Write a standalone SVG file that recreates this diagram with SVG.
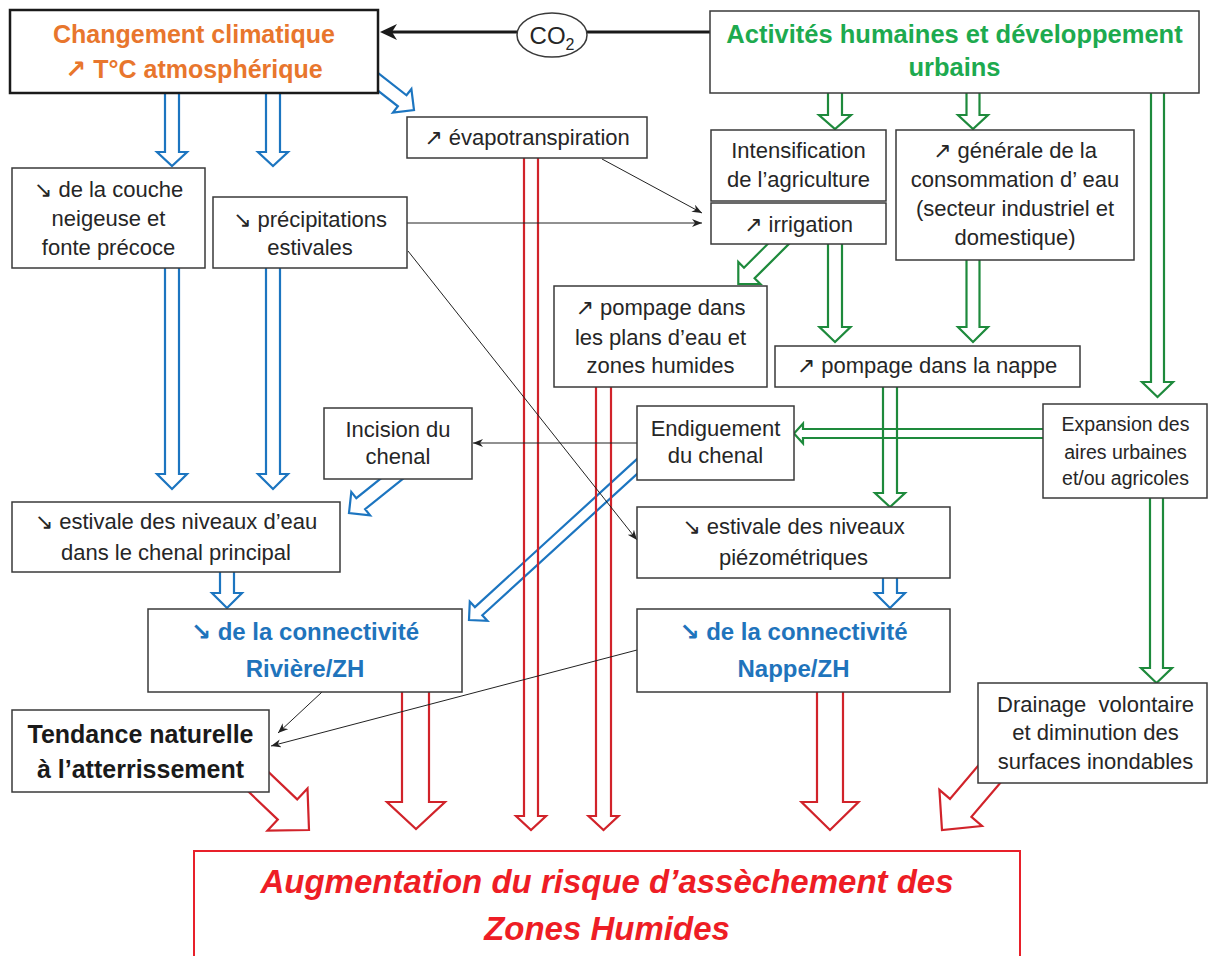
<svg xmlns="http://www.w3.org/2000/svg" width="1208" height="956" viewBox="0 0 1208 956">
<defs>
<style>
.box{fill:#fff;stroke:#3a3a3a;stroke-width:1.5}
.t{font-family:"Liberation Sans","DejaVu Sans",sans-serif;font-size:22px;fill:#262626;text-anchor:middle}
.b{font-weight:bold}
.ab{fill:none;stroke:#1C75C0;stroke-width:2.2;stroke-linejoin:miter}
.ag{fill:none;stroke:#1E8A3C;stroke-width:2.2;stroke-linejoin:miter}
.ar{fill:none;stroke:#D1232A;stroke-width:2.2;stroke-linejoin:miter}
.thin{fill:none;stroke:#222;stroke-width:1;marker-end:url(#ah)}
</style>
<marker id="ah" markerUnits="userSpaceOnUse" markerWidth="12" markerHeight="10" refX="10" refY="4" orient="auto">
<path d="M0,0 L10,4 L0,8 L3,4 Z" fill="#222"/>
</marker>
</defs>
<rect width="1208" height="956" fill="#fff"/>
<g id="connectors">
<path d="M710,32 H392" stroke="#1a1a1a" stroke-width="3" fill="none"/>
<path d="M380,32 L397,24 L392,32 L397,40 Z" fill="#1a1a1a"/>
<!-- blue -->
<path class="ab" d="M165,93 V152 H157 L172,166 L187,152 H179 V93"/>
<path class="ab" d="M266,93 V152 H258 L273,166 L288,152 H280 V93"/>
<path class="ab" d="M165,268 V474 H157 L172,489 L187,474 H179 V268"/>
<path class="ab" d="M266,268 V474 H258 L273,489 L288,474 H280 V268"/>
<path class="ab" d="M220,572 V593 H212 L227,608 L242,593 H234 V572"/>
<path class="ab" d="M883,578 V593 H875 L890,608 L905,593 H897 V578"/>
<path class="ab" d="M375,70.7 L406.5,95.3 L411.4,89 L414,110 L393,112.6 L397.9,106.3 L366.4,81.7"/>
<path class="ab" d="M411.9,471.6 L365.1,509.1 L370.1,515.3 L349,513 L351.3,491.9 L356.3,498.1 L403.1,460.6"/>
<path class="ab" d="M655.5,457.1 L482.3,615.3 L487.4,620.8 L469,620 L469.8,601.6 L474.9,607.1 L648.1,448.9"/>
<!-- green -->
<path class="ag" d="M828,93 V115 H819 L835,129 L851,115 H842 V93"/>
<path class="ag" d="M966.5,93 V115 H958 L973,129 L988,115 H979.5 V93"/>
<path class="ag" d="M1151,93 V382 H1142 L1157.5,397 L1173,382 H1164 V93"/>
<path class="ag" d="M828,244 V327 H819.5 L835,342 L850.5,327 H842 V244"/>
<path class="ag" d="M966.5,260 V327 H958 L973,342 L988,327 H979.5 V260"/>
<path class="ag" d="M883,387 V493 H875 L890,507 L905,493 H897 V387"/>
<path class="ag" d="M1150,498 V668 H1141 L1156.5,683 L1172,668 H1163 V498"/>
<path class="ag" d="M1043,429 H803 V423.5 L794,433.5 L803,443.5 V438 H1043"/>
<path class="ag" d="M797,235.9 L754.6,278.3 L760.3,284 L738.3,284 L738.3,262 L744,267.7 L786.4,225.3"/>
<!-- red -->
<path class="ar" d="M524,158 V816 H516 L531,830 L546,816 H538 V158"/>
<path class="ar" d="M596,387 V816 H588.5 L603.5,830 L618.5,816 H611 V387"/>
<path class="ar" d="M402,692 V802 H387 L416,829 L445,802 H429 V692"/>
<path class="ar" d="M817,692 V802 H801.5 L830,830 L858.5,802 H843 V692"/>
<path class="ar" d="M253.8,758 L297.2,799.4 L307.5,788.5 L309,830 L267.5,830.5 L277.8,819.6 L234.4,778.2"/>
<path class="ar" d="M1010.2,771.2 L971.4,816.9 L982,826 L942,830 L939.4,789.8 L950,798.9 L988.8,753.2"/>
<!-- thin -->
<path class="thin" d="M602,159 L702,213"/>
<path class="thin" d="M407,223 L702,223"/>
<path class="thin" d="M408,251 L637,540"/>
<path class="thin" d="M637,443 L473,443"/>
<path class="thin" d="M322,692 L278,733"/>
<path class="thin" d="M637,650 L271,746"/>
</g>
<g id="n-changement">
<rect x="10" y="10" width="368" height="83" fill="#fff" stroke="#1a1a1a" stroke-width="2.5"/>
<text class="t b" x="194" y="43" style="font-size:25px;fill:#E8762D">Changement climatique</text>
<text class="t b" x="194" y="78" style="font-size:25px;fill:#E8762D">↗ T°C atmosphérique</text>
</g>
<g id="n-co2">
<ellipse cx="552" cy="35" rx="35" ry="22" fill="#fff" stroke="#3a3a3a" stroke-width="1.5"/>
<text class="t" x="552" y="44" style="font-size:24px">CO<tspan style="font-size:16px" dy="6">2</tspan></text>
</g>
<g id="n-activites">
<rect class="box" x="710" y="11" width="489" height="82"/>
<text class="t b" x="954.5" y="43" style="font-size:25.5px;fill:#1DAA4F">Activités humaines et développement</text>
<text class="t b" x="954.5" y="76" style="font-size:25.5px;fill:#1DAA4F">urbains</text>
</g>
<g id="n-evap">
<rect class="box" x="407" y="117" width="240" height="41"/>
<text class="t" x="527" y="145">↗ évapotranspiration</text>
</g>
<g id="n-intensif">
<rect class="box" x="711" y="130" width="175" height="71"/>
<text class="t" x="798.5" y="158">Intensification</text>
<text class="t" x="798.5" y="187">de l’agriculture</text>
</g>
<g id="n-irrigation">
<rect class="box" x="711" y="203" width="175" height="41"/>
<text class="t" x="798.5" y="232">↗ irrigation</text>
</g>
<g id="n-generale">
<rect class="box" x="896" y="130" width="238" height="130"/>
<text class="t" x="1015" y="158">↗ générale de la</text>
<text class="t" x="1015" y="187">consommation d’ eau</text>
<text class="t" x="1015" y="216">(secteur industriel et</text>
<text class="t" x="1015" y="245">domestique)</text>
</g>
<g id="n-couche">
<rect class="box" x="12" y="168" width="193" height="100"/>
<text class="t" x="108.5" y="197">↘ de la couche</text>
<text class="t" x="108.5" y="226">neigeuse et</text>
<text class="t" x="108.5" y="255">fonte précoce</text>
</g>
<g id="n-precip">
<rect class="box" x="213" y="197" width="194" height="71"/>
<text class="t" x="310" y="227">↘ précipitations</text>
<text class="t" x="310" y="255">estivales</text>
</g>
<g id="n-pompage-plans">
<rect class="box" x="554" y="286" width="213" height="101"/>
<text class="t" x="660.5" y="315">↗ pompage dans</text>
<text class="t" x="660.5" y="345">les plans d’eau et</text>
<text class="t" x="660.5" y="373">zones humides</text>
</g>
<g id="n-pompage-nappe">
<rect class="box" x="775" y="346" width="305" height="41"/>
<text class="t" x="927" y="373">↗ pompage dans la nappe</text>
</g>
<g id="n-incision">
<rect class="box" x="324" y="408" width="148" height="71"/>
<text class="t" x="398" y="437">Incision du</text>
<text class="t" x="398" y="464">chenal</text>
</g>
<g id="n-endiguement">
<rect class="box" x="637" y="406" width="157" height="74"/>
<text class="t" x="715.5" y="436">Endiguement</text>
<text class="t" x="715.5" y="463">du chenal</text>
</g>
<g id="n-expansion">
<rect class="box" x="1043" y="404" width="164" height="94"/>
<text class="t" x="1125.5" y="431" style="font-size:19.5px">Expansion des</text>
<text class="t" x="1125.5" y="459" style="font-size:19.5px">aires urbaines</text>
<text class="t" x="1125.5" y="485" style="font-size:19.5px">et/ou agricoles</text>
</g>
<g id="n-estivale-eau">
<rect class="box" x="12" y="502" width="328" height="70"/>
<text class="t" x="176" y="529">↘ estivale des niveaux d’eau</text>
<text class="t" x="176" y="560">dans le chenal principal</text>
</g>
<g id="n-estivale-piezo">
<rect class="box" x="637" y="507" width="313" height="71"/>
<text class="t" x="793.5" y="534">↘ estivale des niveaux</text>
<text class="t" x="793.5" y="565">piézométriques</text>
</g>
<g id="n-riviere">
<rect class="box" x="148" y="609" width="314" height="83"/>
<text class="t b" x="305" y="640" style="font-size:24px;fill:#1F74BC">↘ de la connectivité</text>
<text class="t b" x="305" y="677" style="font-size:24px;fill:#1F74BC">Rivière/ZH</text>
</g>
<g id="n-nappe">
<rect class="box" x="637" y="609" width="313" height="83"/>
<text class="t b" x="793.5" y="640" style="font-size:24px;fill:#1F74BC">↘ de la connectivité</text>
<text class="t b" x="793.5" y="677" style="font-size:24px;fill:#1F74BC">Nappe/ZH</text>
</g>
<g id="n-tendance">
<rect class="box" x="12" y="710" width="257" height="82"/>
<text class="t b" x="140.5" y="743" style="font-size:25px;fill:#1a1a1a">Tendance naturelle</text>
<text class="t b" x="140.5" y="778" style="font-size:25px;fill:#1a1a1a">à l’atterrissement</text>
</g>
<g id="n-drainage">
<rect class="box" x="978" y="683" width="229" height="100"/>
<text class="t" x="1095.5" y="712" style="white-space:pre">Drainage  volontaire</text>
<text class="t" x="1095.5" y="740">et diminution des</text>
<text class="t" x="1095.5" y="769">surfaces inondables</text>
</g>
<g id="n-augmentation">
<rect x="194" y="851" width="826" height="120" fill="#fff" stroke="#E8202A" stroke-width="2"/>
<text class="t b" x="607" y="893" style="font-size:33px;font-style:italic;fill:#EE1D25">Augmentation du risque d’assèchement des</text>
<text class="t b" x="607" y="940" style="font-size:33px;font-style:italic;fill:#EE1D25">Zones Humides</text>
</g>
</svg>
